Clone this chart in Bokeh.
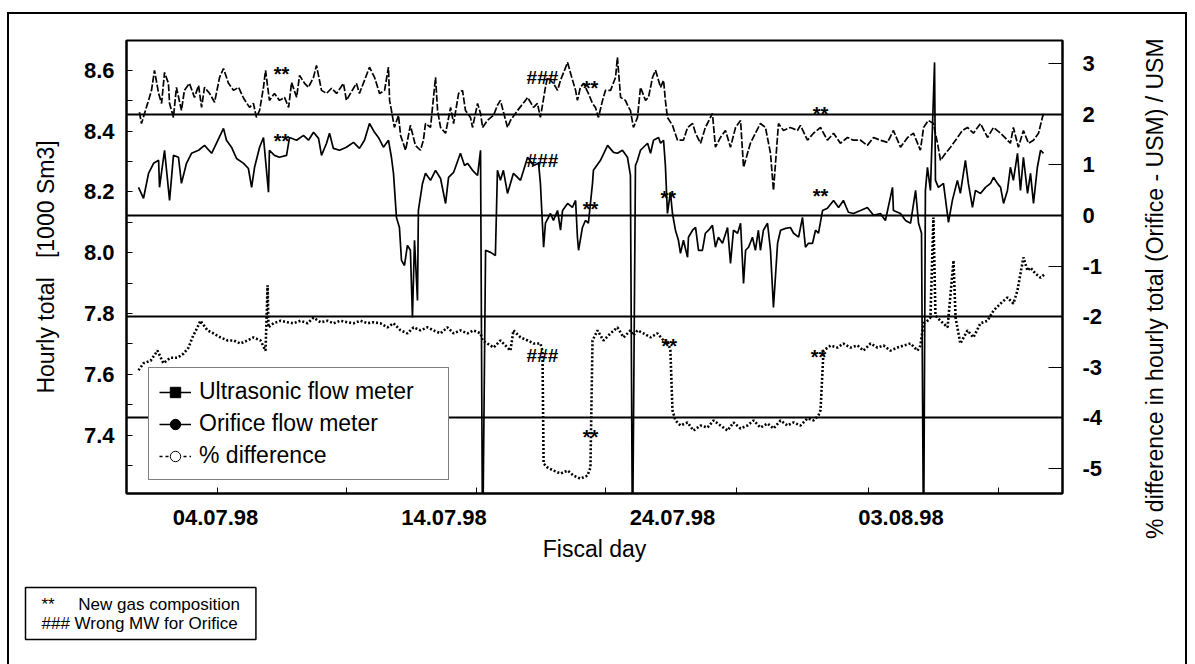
import math
from bokeh.plotting import figure
from bokeh.layouts import row
from bokeh.models import (Range1d, LinearAxis, FixedTicker, Legend, LegendItem, Title, Div,
                          PrintfTickFormatter)
from bokeh.core.properties import value
from bokeh.embed import file_html
from bokeh.resources import INLINE

FONT = "Liberation Sans"
NB = "\u00a0"

# ---------------- data (day number counted from 1 July 1998) ----------------
usm_day = [0.67, 0.76, 1.07, 1.20, 1.33, 1.51, 1.64, 1.77, 1.94, 1.99, 2.16, 2.29, 2.51, 2.64, 2.86,
           3.08, 3.26, 3.39, 3.52, 3.74, 3.96, 4.18, 4.35, 4.57, 4.79, 5.01, 5.23, 5.49, 5.66, 5.79,
           5.93, 6.10, 6.19, 6.36, 6.58, 6.80, 7.02, 7.20, 7.33, 7.55, 7.68, 7.90, 8.07, 8.29, 8.42,
           8.64, 8.86, 9.08, 9.30, 9.60, 9.73, 10.04, 10.17, 10.30, 10.52, 10.74, 10.96, 11.18, 11.40,
           11.57, 11.62, 11.70, 11.83, 12.01, 12.10, 12.32, 12.53, 12.75, 12.97, 13.10, 13.19, 13.41,
           13.63, 13.72, 13.85, 14.07, 14.29, 14.42, 14.64, 14.81, 14.94, 15.16, 15.25, 15.47, 15.60,
           15.69, 15.90, 16.17, 16.34, 16.47, 16.78, 16.91, 17.22, 17.57, 17.66, 17.92, 18.09, 18.22,
           18.44, 18.53, 18.79, 18.97, 19.10, 19.41, 19.54, 19.76, 19.84, 19.97, 20.11, 20.32, 20.50,
           20.63, 20.76, 20.94, 21.07, 21.29, 21.51, 21.59, 21.73, 21.94, 22.08, 22.16, 22.29, 22.47,
           22.60, 22.82, 22.95, 23.13, 23.26, 23.48, 23.61, 23.69, 23.78, 24.00, 24.22, 24.48, 24.66,
           24.88, 25.01, 25.23, 25.44, 25.75, 25.88, 26.10, 26.32, 26.54, 26.76, 26.98, 27.11, 27.41,
           27.63, 27.85, 28.07, 28.29, 28.42, 28.64, 28.86, 29.16, 29.47, 29.60, 29.91, 30.17, 30.48,
           30.78, 31.05, 31.35, 31.66, 31.92, 32.23, 32.53, 32.80, 33.10, 33.41, 33.67, 33.98, 34.29,
           34.55, 34.85, 34.99, 35.20, 35.42, 35.60, 35.73, 35.95, 36.17, 36.39, 36.69, 36.91, 37.17,
           37.48, 37.79, 38.05, 38.36, 38.66, 38.79, 38.92, 39.14, 39.36, 39.58, 39.80, 40.02, 40.19,
           40.24]
usm_val = [8.462, 8.425, 8.501, 8.534, 8.600, 8.524, 8.491, 8.593, 8.557, 8.491, 8.445, 8.544, 8.468,
           8.534, 8.557, 8.511, 8.550, 8.478, 8.544, 8.524, 8.495, 8.577, 8.606, 8.557, 8.534, 8.544,
           8.508, 8.478, 8.491, 8.445, 8.468, 8.544, 8.600, 8.501, 8.524, 8.501, 8.511, 8.478, 8.560,
           8.511, 8.583, 8.557, 8.544, 8.577, 8.616, 8.534, 8.524, 8.541, 8.524, 8.557, 8.501, 8.541,
           8.557, 8.524, 8.567, 8.610, 8.577, 8.524, 8.534, 8.610, 8.501, 8.468, 8.412, 8.452, 8.386,
           8.337, 8.419, 8.353, 8.337, 8.370, 8.425, 8.412, 8.577, 8.468, 8.412, 8.393, 8.478, 8.425,
           8.524, 8.534, 8.468, 8.445, 8.412, 8.491, 8.458, 8.412, 8.435, 8.452, 8.485, 8.501, 8.412,
           8.435, 8.468, 8.501, 8.511, 8.478, 8.491, 8.445, 8.544, 8.577, 8.557, 8.534, 8.567, 8.626,
           8.590, 8.534, 8.501, 8.544, 8.557, 8.524, 8.491, 8.478, 8.445, 8.501, 8.534, 8.534, 8.577,
           8.643, 8.511, 8.501, 8.478, 8.468, 8.412, 8.445, 8.544, 8.501, 8.511, 8.577, 8.600, 8.544,
           8.567, 8.501, 8.445, 8.419, 8.370, 8.370, 8.412, 8.425, 8.393, 8.360, 8.412, 8.458, 8.347,
           8.379, 8.402, 8.347, 8.412, 8.435, 8.281, 8.360, 8.393, 8.425, 8.412, 8.327, 8.205, 8.425,
           8.402, 8.412, 8.402, 8.419, 8.370, 8.393, 8.412, 8.370, 8.393, 8.360, 8.379, 8.370, 8.370,
           8.353, 8.379, 8.370, 8.363, 8.402, 8.347, 8.379, 8.393, 8.337, 8.412, 8.435, 8.425, 8.360,
           8.304, 8.327, 8.347, 8.370, 8.402, 8.412, 8.393, 8.425, 8.379, 8.412, 8.393, 8.370, 8.360,
           8.412, 8.347, 8.402, 8.360, 8.370, 8.393, 8.445, 8.458]

ori_day = [0.63, 0.85, 1.07, 1.29, 1.51, 1.55, 1.77, 1.99, 2.16, 2.38, 2.51, 2.73, 2.95, 3.26, 3.52,
           3.83, 4.04, 4.35, 4.48, 4.70, 4.92, 5.23, 5.44, 5.58, 5.71, 5.93, 6.10, 6.32, 6.36, 6.58,
           6.80, 7.11, 7.24, 7.55, 7.85, 8.07, 8.29, 8.51, 8.64, 8.86, 8.99, 9.16, 9.43, 9.73, 10.04,
           10.30, 10.52, 10.74, 10.96, 11.13, 11.35, 11.57, 11.70, 11.79, 11.92, 12.05, 12.14, 12.27,
           12.40, 12.53, 12.62, 12.71, 12.84, 12.88, 13.06, 13.19, 13.41, 13.63, 13.85, 14.07, 14.20,
           14.42, 14.72, 14.90, 15.03, 15.25, 15.47, 15.60, 15.69, 15.82, 16.04, 16.25, 16.34, 16.47,
           16.60, 16.78, 17.04, 17.35, 17.66, 17.92, 18.14, 18.22, 18.36, 18.44, 18.66, 18.79, 18.97,
           19.10, 19.19, 19.41, 19.62, 19.76, 19.84, 19.89, 20.06, 20.19, 20.32, 20.50, 20.54, 20.85,
           21.16, 21.42, 21.59, 21.81, 22.03, 22.16, 22.25, 22.38, 22.47, 22.60, 22.91, 23.04, 23.17,
           23.39, 23.48, 23.61, 23.69, 23.78, 23.91, 24.00, 24.13, 24.26, 24.35, 24.48, 24.66, 24.70,
           24.88, 25.01, 25.14, 25.31, 25.44, 25.58, 25.75, 25.88, 26.01, 26.19, 26.41, 26.54, 26.67,
           26.85, 26.98, 27.11, 27.20, 27.33, 27.50, 27.63, 27.76, 27.85, 27.98, 28.16, 28.29, 28.42,
           28.60, 28.73, 28.95, 29.16, 29.30, 29.52, 29.69, 29.82, 29.95, 30.13, 30.26, 30.39, 30.57,
           30.78, 31.05, 31.27, 31.48, 31.70, 31.92, 32.23, 32.53, 32.80, 33.10, 33.32, 33.63, 33.67,
           33.98, 34.20, 34.42, 34.64, 34.77, 34.90, 34.99, 35.07, 35.16, 35.29, 35.47, 35.51, 35.64,
           35.86, 36.08, 36.25, 36.47, 36.60, 36.82, 36.95, 37.13, 37.26, 37.48, 37.70, 37.92, 38.05,
           38.22, 38.36, 38.49, 38.66, 38.79, 38.92, 39.10, 39.23, 39.36, 39.54, 39.67, 39.80, 39.97,
           40.11, 40.24]
ori_val = [8.215, 8.179, 8.261, 8.294, 8.304, 8.215, 8.337, 8.172, 8.320, 8.314, 8.228, 8.294, 8.327,
           8.337, 8.353, 8.327, 8.360, 8.409, 8.370, 8.347, 8.310, 8.294, 8.277, 8.215, 8.281, 8.347,
           8.379, 8.199, 8.337, 8.320, 8.314, 8.320, 8.379, 8.370, 8.386, 8.370, 8.396, 8.376, 8.320,
           8.360, 8.393, 8.343, 8.337, 8.347, 8.363, 8.343, 8.370, 8.425, 8.396, 8.379, 8.347, 8.370,
           8.314, 8.261, 8.116, 8.083, 7.975, 7.958, 8.024, 8.008, 7.787, 8.041, 7.843, 8.139, 8.228,
           8.261, 8.238, 8.271, 8.244, 8.162, 8.248, 8.264, 8.327, 8.287, 8.294, 8.271, 8.254, 8.337,
           7.000, 8.008, 8.001, 7.991, 8.271, 8.238, 8.271, 8.195, 8.261, 8.238, 8.314, 8.287, 8.294,
           8.228, 8.018, 8.097, 8.129, 8.106, 8.139, 8.074, 8.139, 8.162, 8.149, 8.172, 8.051, 8.008,
           8.083, 8.106, 8.097, 8.228, 8.271, 8.304, 8.353, 8.330, 8.327, 8.337, 8.314, 8.254, 7.000,
           8.287, 8.304, 8.337, 8.360, 8.327, 8.370, 8.379, 8.360, 8.370, 8.287, 8.129, 8.199, 8.129,
           8.074, 8.041, 7.998, 8.041, 7.985, 8.051, 8.074, 8.083, 8.008, 8.008, 8.064, 8.074, 8.090,
           8.018, 8.051, 8.031, 8.083, 7.965, 8.074, 8.064, 8.097, 7.899, 8.008, 8.018, 8.051, 8.008,
           8.074, 8.008, 8.074, 8.097, 8.008, 7.820, 8.031, 8.074, 8.080, 8.083, 8.064, 8.051, 8.116,
           8.018, 8.031, 8.031, 8.074, 8.064, 8.139, 8.146, 8.172, 8.149, 8.172, 8.133, 8.129, 8.139,
           8.149, 8.123, 8.129, 8.106, 8.215, 8.139, 8.129, 8.106, 8.097, 8.205, 8.097, 8.064, 7.000,
           8.205, 8.281, 8.205, 8.626, 8.238, 8.215, 8.228, 8.100, 8.172, 8.238, 8.195, 8.304, 8.228,
           8.149, 8.205, 8.195, 8.215, 8.228, 8.248, 8.228, 8.215, 8.162, 8.205, 8.281, 8.238, 8.327,
           8.205, 8.314, 8.195, 8.261, 8.162, 8.281, 8.337, 8.327]

dif_day = [0.63, 0.85, 1.16, 1.46, 1.72, 2.03, 2.34, 2.60, 2.82, 2.99, 3.21, 3.34, 3.65, 3.91, 4.22,
           4.53, 4.79, 5.09, 5.40, 5.66, 5.97, 6.19, 6.28, 6.32, 6.54, 6.85, 7.15, 7.41, 7.72, 8.03,
           8.29, 8.60, 8.90, 9.16, 9.47, 9.78, 10.04, 10.35, 10.65, 10.92, 11.22, 11.53, 11.79, 12.10,
           12.40, 12.67, 12.97, 13.28, 13.54, 13.85, 14.15, 14.42, 14.72, 15.03, 15.29, 15.60, 15.69,
           15.90, 16.17, 16.47, 16.78, 16.91, 17.04, 17.35, 17.66, 17.92, 18.22, 18.31, 18.36, 18.53,
           18.79, 19.10, 19.41, 19.67, 19.97, 20.28, 20.41, 20.50, 20.72, 20.98, 21.29, 21.59, 21.86,
           22.16, 22.29, 22.47, 22.73, 23.04, 23.34, 23.61, 23.78, 23.91, 24.00, 24.13, 24.35, 24.66,
           24.92, 25.23, 25.53, 25.80, 26.10, 26.41, 26.67, 26.98, 27.28, 27.55, 27.85, 28.16, 28.42,
           28.73, 29.03, 29.30, 29.60, 29.91, 30.17, 30.39, 30.48, 30.61, 30.92, 31.22, 31.48, 31.79,
           32.10, 32.36, 32.67, 32.97, 33.24, 33.54, 33.85, 34.11, 34.42, 34.72, 34.85, 34.99, 35.16,
           35.29, 35.42, 35.51, 35.73, 36.04, 36.30, 36.39, 36.60, 36.91, 37.17, 37.48, 37.79, 38.05,
           38.36, 38.66, 38.92, 39.10, 39.23, 39.36, 39.54, 39.67, 39.89, 40.11, 40.32]
dif_pct = [-3.06, -2.92, -2.87, -2.67, -2.92, -2.81, -2.81, -2.73, -2.61, -2.41, -2.21, -2.08, -2.27,
           -2.33, -2.41, -2.47, -2.47, -2.53, -2.47, -2.41, -2.47, -2.67, -1.38, -2.21, -2.13, -2.08,
           -2.11, -2.13, -2.08, -2.13, -2.02, -2.11, -2.08, -2.13, -2.08, -2.11, -2.13, -2.08, -2.13,
           -2.11, -2.13, -2.21, -2.13, -2.27, -2.33, -2.21, -2.27, -2.21, -2.27, -2.33, -2.21, -2.33,
           -2.27, -2.33, -2.27, -2.33, -2.47, -2.53, -2.61, -2.47, -2.61, -2.67, -2.27, -2.41, -2.47,
           -2.53, -2.53, -2.67, -4.90, -4.98, -5.04, -5.10, -5.04, -5.14, -5.20, -5.14, -4.98, -2.47,
           -2.27, -2.47, -2.33, -2.21, -2.41, -2.27, -2.37, -2.27, -2.33, -2.41, -2.33, -2.47, -2.47,
           -2.67, -3.85, -4.05, -4.15, -4.09, -4.25, -4.15, -4.19, -4.05, -4.15, -4.25, -4.09, -4.21,
           -4.15, -4.05, -4.19, -4.11, -4.21, -4.05, -4.15, -4.09, -4.15, -4.01, -4.05, -3.95, -3.85,
           -2.67, -2.57, -2.61, -2.53, -2.61, -2.57, -2.67, -2.53, -2.61, -2.57, -2.67, -2.61, -2.57,
           -2.53, -2.67, -2.57, -2.13, -2.08, -2.02, -0.04, -1.98, -2.08, -2.21, -0.89, -2.02, -2.53,
           -2.27, -2.41, -2.13, -2.08, -1.88, -1.74, -1.62, -1.74, -1.48, -1.15, -0.83, -1.09, -1.03,
           -1.15, -1.23, -1.15]

# horizontal reference lines (right axis, %)
grid_pct = [2, 0, -2, -4]

# event markers
mark_top_txt = ["**", "**", "**", "**", "**", "**", "**"]
mark_top_day = [6.89, 6.89, 20.41, 20.41, 23.82, 30.48, 30.48]
mark_top_val = [8.606, 8.386, 8.560, 8.162, 8.199, 8.475, 8.205]
mark_hash_day = [18.31, 18.31]
mark_hash_val = [8.577, 8.304]
mark_pct_txt = ["###", "**", "**", "**"]
mark_pct_day = [18.31, 20.41, 23.86, 30.39]
mark_pct_val = [-2.77, -4.25, -2.47, -2.67]

x_tick_days = [4, 14, 24, 34]
x_tick_labels = ["04.07.98", "14.07.98", "24.07.98", "03.08.98"]
x_minor_days = [4.09, 9.73, 15.42, 21.07, 26.80, 32.58, 38.27]
y_major = [7.2, 7.4, 7.6, 7.8, 8.0, 8.2, 8.4, 8.6]
y_minor = [7.3, 7.5, 7.7, 7.9, 8.1, 8.3, 8.5]
pct_ticks = [-5, -4, -3, -2, -1, 0, 1, 2, 3]

series_names = ["Ultrasonic flow meter", "Orifice flow meter", "% difference"]
note_lines = ["**" + NB * 5 + "New gas composition", "### Wrong MW for Orifice"]
right_title = "% difference in hourly total (Orifice - USM) / USM"

# ---------------- figure ----------------
W, H = 1113, 652
p = figure(width=W, height=H, output_backend="svg", toolbar_location=None,
           x_range=Range1d(0.105, 41.07), y_range=Range1d(7.208, 8.698),
           min_border_left=119, min_border_right=58, min_border_top=28, min_border_bottom=171)
p.styles = {"box-shadow": "inset 2px 2px 0 0 #000"}
p.extra_y_ranges = {"right": Range1d(-5.494, 3.458)}
p.xgrid.visible = False
p.ygrid.visible = False
p.outline_line_color = "black"
p.outline_line_width = 2
p.background_fill_color = "white"
p.border_fill_alpha = 0

# left axis
ly = p.left[0]
ly.ticker = FixedTicker(ticks=y_major, minor_ticks=y_minor)
ly.formatter = PrintfTickFormatter(format="%.1f")
ly.major_tick_in = 6
ly.major_tick_out = 0
ly.minor_tick_in = 6
ly.minor_tick_out = 0
ly.axis_line_width = 2
ly.major_label_text_font = FONT
ly.major_label_text_font_size = "22px"
ly.major_label_text_font_style = "bold"
ly.major_label_text_color = "black"
ly.major_label_standoff = 12
ly.axis_label = "Hourly total" + NB * 3 + "[1000 Sm3]"
ly.axis_label_text_font = FONT
ly.axis_label_text_font_size = "23px"
ly.axis_label_text_font_style = "normal"
ly.axis_label_text_color = "black"
ly.axis_label_standoff = 22

# bottom axis
bx = p.below[0]
bx.ticker = FixedTicker(ticks=x_tick_days, minor_ticks=x_minor_days)
bx.major_label_overrides = dict(zip(x_tick_days, x_tick_labels))
bx.major_tick_in = 0
bx.major_tick_out = 0
bx.minor_tick_in = 6
bx.minor_tick_out = 0
bx.axis_line_width = 2
bx.major_label_text_font = FONT
bx.major_label_text_font_size = "22px"
bx.major_label_text_font_style = "bold"
bx.major_label_text_color = "black"
bx.major_label_standoff = 16
bx.axis_label = "Fiscal day"
bx.axis_label_text_font = FONT
bx.axis_label_text_font_size = "23px"
bx.axis_label_text_font_style = "normal"
bx.axis_label_text_color = "black"
bx.axis_label_standoff = 8

# right axis (ticks and numbers; its title is set beside the plot)
ry = LinearAxis(y_range_name="right", ticker=FixedTicker(ticks=pct_ticks),
                formatter=PrintfTickFormatter(format="%d"))
ry.major_tick_in = 14
ry.major_tick_out = 0
ry.minor_tick_in = 0
ry.minor_tick_out = 0
ry.axis_line_width = 2
ry.major_label_text_font = FONT
ry.major_label_text_font_size = "22px"
ry.major_label_text_font_style = "bold"
ry.major_label_text_color = "black"
ry.major_label_standoff = 20
p.add_layout(ry, "right")

# reference lines
p.hspan(y=grid_pct, y_range_name="right", line_color="black", line_width=1.8)

# series
p.line(usm_day, usm_val, line_color="black", line_width=1.7, line_dash="7 2")
p.line(ori_day, ori_val, line_color="black", line_width=1.7)
p.line(dif_day, dif_pct, line_color="black", line_width=2.6, line_dash="2 2", y_range_name="right")

# event marker text
p.text(x=mark_top_day, y=mark_top_val, text=mark_top_txt, text_font=value(FONT),
       text_font_size="20px", text_font_style="bold", text_align="center",
       text_baseline="middle", y_offset=6, text_color="black")
p.text(x=mark_hash_day, y=mark_hash_val, text=["###", "###"], text_font=value(FONT),
       text_font_size="19px", text_font_style="bold", text_align="center",
       text_baseline="middle", text_color="black")
p.text(x=mark_pct_day, y=mark_pct_val, text=mark_pct_txt, text_font=value(FONT),
       text_font_size=["19px", "20px", "20px", "20px"], text_font_style="bold", text_align="center",
       text_baseline="middle", y_offset=[0, 6, 6, 6], text_color="black", y_range_name="right")

# legend proxies (NaN data: nothing drawn in the plot)
nan = [float("nan")]
l1a = p.line(nan, nan, line_color="black", line_width=1.7)
l1b = p.scatter(nan, nan, marker="square", size=8, color="black")
l2a = p.line(nan, nan, line_color="black", line_width=1.7)
l2b = p.scatter(nan, nan, marker="circle", size=5, color="black")
l3a = p.line(nan, nan, line_color="black", line_width=1.7, line_dash="3 3")
l3b = p.scatter(nan, nan, marker="circle", size=6, fill_color="white", line_color="black")
legend = Legend(items=[LegendItem(label=series_names[0], renderers=[l1a, l1b]),
                       LegendItem(label=series_names[1], renderers=[l2a, l2b]),
                       LegendItem(label=series_names[2], renderers=[l3a, l3b])],
                location=(22, 13), label_text_font=FONT, label_text_font_size="23px",
                label_text_color="black",
                glyph_width=32, glyph_height=26, label_height=26, label_width=239,
                label_standoff=8, padding=10, spacing=5, margin=0,
                border_line_color="black", border_line_width=1.5,
                background_fill_color="white", background_fill_alpha=1.0)
p.add_layout(legend)

# note box under the chart
note = Title(text="\n".join(note_lines), align="left", offset=-101, standoff=42,
             text_font=FONT, text_font_size="17px", text_font_style="normal",
             text_color="black", border_line_color="black", border_line_width=1.5,
             background_fill_color="white")
try:
    note.padding = (16, 7)
except Exception:
    pass
p.add_layout(note, "below")

# right-hand axis title, reading bottom to top
title_html = ('<div style="position:relative;width:67px;height:652px;">'
              '<span style="position:absolute;left:23px;top:21px;height:512px;width:24px;'
              'writing-mode:vertical-rl;transform:rotate(180deg);text-align:center;'
              'white-space:nowrap;line-height:24px;font-family:\'Liberation Sans\';'
              'font-size:23px;color:#000;">' + right_title + '</span></div>')
rdiv = Div(text=title_html, width=67, height=652, margin=0,
           styles={"box-shadow": "inset -2px 2px 0 0 #000"})

lay = row(p, rdiv, spacing=0, styles={"margin-left": "7px", "margin-top": "12px"})

open("out.html", "w").write(file_html(lay, INLINE))
